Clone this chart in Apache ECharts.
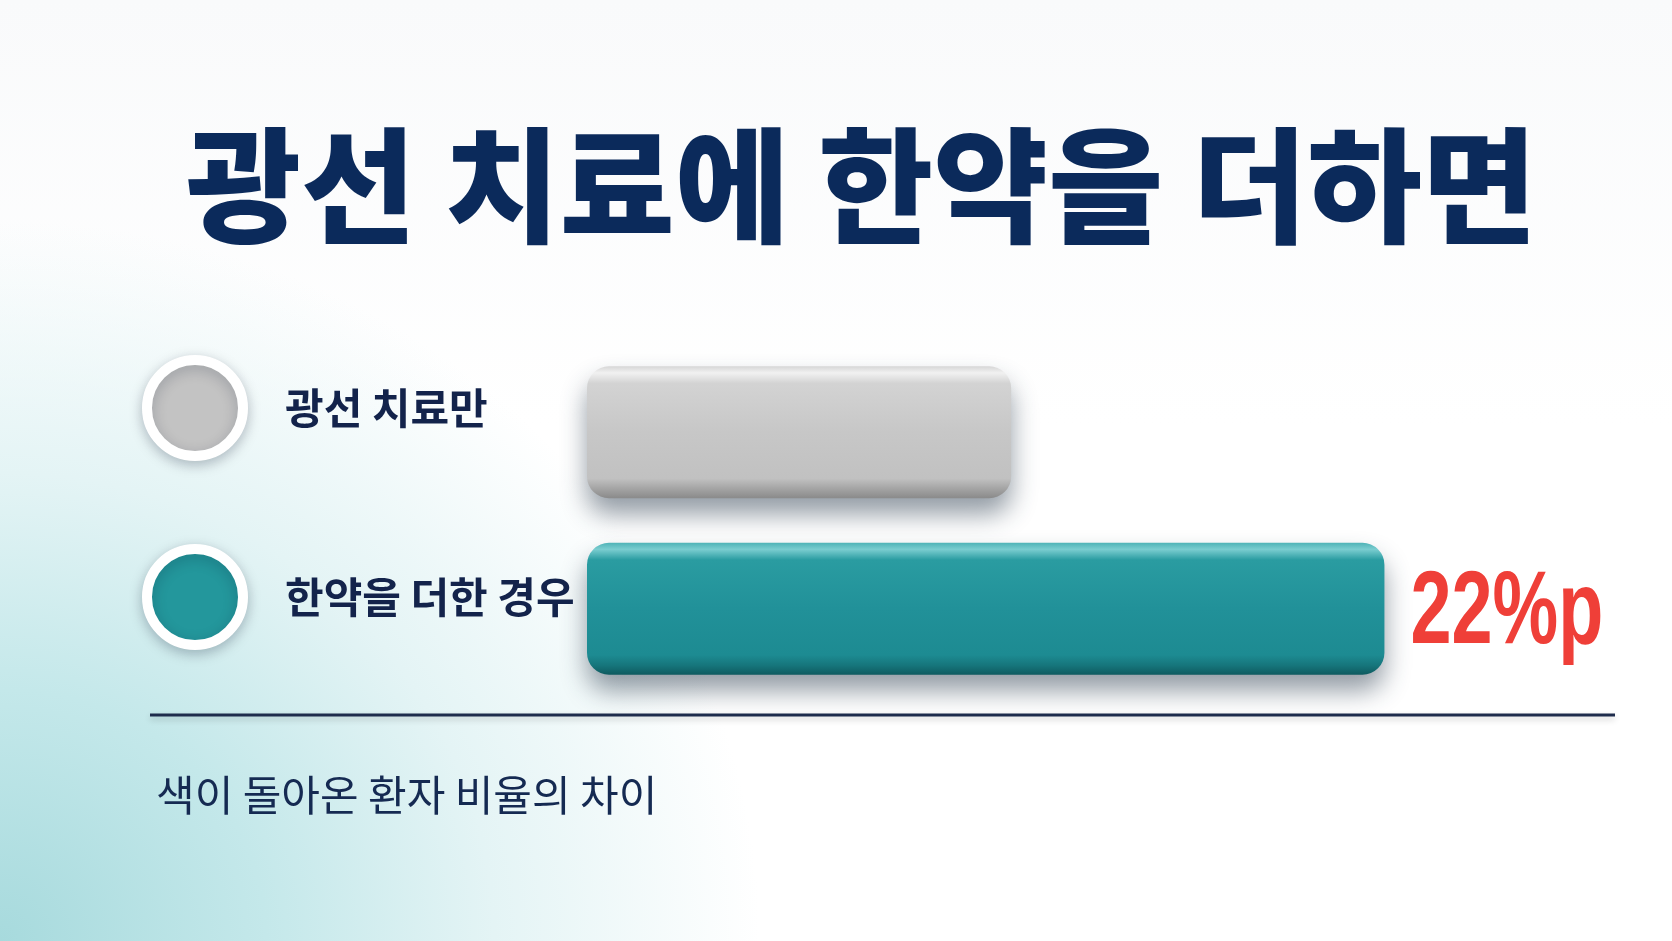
<!DOCTYPE html>
<html>
<head>
<meta charset="utf-8">
<script src="https://cdn.jsdelivr.net/npm/echarts@6/dist/echarts.min.js"></script>
<style>
  html, body { margin: 0; padding: 0; }
  body {
    width: 1672px; height: 941px; overflow: hidden;
    background:
      radial-gradient(ellipse 760px 720px at 0% 100%, #a7dadd 0%, #c4e8ea 35%, #e4f4f5 65%, rgba(255,255,255,0) 100%),
      linear-gradient(#f9fafb, #ffffff 45%);
  }
  #chart { width: 1672px; height: 941px; }
</style>
</head>
<body>
<div id="chart"></div>
<script>
// 데이터
const categories = ['광선 치료만', '한약을 더한 경우'];
const values = [25, 47];
const diffLabels = ['', '22%p'];
const legendColors = ['#c3c3c3', '#23979c'];

const titleText = '광선 치료에 한약을 더하면';
const footText = '색이 돌아온 환자 비율의 차이';

const chart = echarts.init(document.getElementById('chart'));

// 막대 입체감 그라데이션
const grayFill = new echarts.graphic.LinearGradient(0, 0, 0, 1, [
  { offset: 0, color: '#d6d6d6' },
  { offset: 0.05, color: '#f1f1f1' },
  { offset: 0.13, color: '#d3d3d3' },
  { offset: 0.5, color: '#c7c7c7' },
  { offset: 0.85, color: '#c1c1c1' },
  { offset: 0.93, color: '#a3a3a3' },
  { offset: 1, color: '#8a8a8a' }
]);
const tealFill = new echarts.graphic.LinearGradient(0, 0, 0, 1, [
  { offset: 0, color: '#4fb3b7' },
  { offset: 0.05, color: '#7acdd0' },
  { offset: 0.13, color: '#2a9ca1' },
  { offset: 0.5, color: '#219199' },
  { offset: 0.85, color: '#1d8b92' },
  { offset: 0.93, color: '#16757b' },
  { offset: 1, color: '#0e5a5f' }
]);
const fills = [grayFill, tealFill];

const series = categories.map((name, i) => ({
  name: name,
  type: 'bar',
  barWidth: 132,
  barGap: '-100%',
  data: values.map((v, j) => (j === i ? v : '-')),
  itemStyle: {
    color: fills[i],
    borderRadius: 22,
    shadowColor: 'rgba(15,35,55,0.45)',
    shadowBlur: 26,
    shadowOffsetY: 16
  }
}));

const option = {
  backgroundColor: 'transparent',
  animation: false,
  title: [
    {
      text: titleText,
      left: 186,
      top: 120,
      padding: 0,
      textStyle: {
        color: '#0b2a5b',
        fontSize: 125,
        lineHeight: 130,
        fontWeight: 900,
        fontFamily: '"Noto Sans CJK KR", sans-serif'
      }
    },
    {
      text: footText,
      left: 156,
      top: 772,
      padding: 0,
      textStyle: {
        color: '#152a52',
        fontSize: 42,
        lineHeight: 46,
        fontWeight: 'normal',
        fontFamily: '"Noto Sans CJK KR", sans-serif'
      }
    }
  ],
  legend: {
    orient: 'vertical',
    left: 137,
    top: 350,
    itemWidth: 96,
    itemHeight: 96,
    itemGap: 83,
    icon: 'circle',
    selectedMode: false,
    data: categories.map((name, i) => ({
      name: name,
      itemStyle: {
        color: legendColors[i],
        borderColor: '#ffffff',
        borderWidth: 10,
        shadowColor: 'rgba(0,20,40,0.22)',
        shadowBlur: 14,
        shadowOffsetY: 4
      }
    })),
    textStyle: {
      color: '#13234b',
      fontSize: 42,
      fontWeight: 'bold',
      fontFamily: '"Noto Sans CJK KR", sans-serif',
      padding: [0, 0, 0, 37]
    }
  },
  grid: {
    left: 587,
    right: 67,
    top: 344,
    height: 353
  },
  xAxis: {
    type: 'value',
    min: 0,
    max: 60,
    show: false
  },
  yAxis: {
    type: 'category',
    inverse: true,
    data: categories,
    show: false
  },
  series: series
};

chart.setOption(option);

// 끝 라벨(좁은 글꼴 느낌을 위해 가로 축소) + 기준선
const graphics = [
  {
    type: 'line',
    shape: { x1: 150, y1: 715, x2: 1615, y2: 715 },
    style: {
      stroke: '#1e2c4c',
      lineWidth: 3,
      shadowColor: 'rgba(0,0,0,0.2)',
      shadowBlur: 6,
      shadowOffsetY: 3
    },
    z: 10
  }
];
values.forEach((v, i) => {
  if (!diffLabels[i]) return;
  const p = chart.convertToPixel({ gridIndex: 0 }, [v, categories[i]]);
  graphics.push({
    type: 'text',
    x: p[0] + 26,
    y: p[1] + 6,
    scaleX: 0.71,
    originX: 0,
    originY: 0,
    style: {
      text: diffLabels[i],
      fill: '#ef3f38',
      fontSize: 104,
      fontWeight: 'bold',
      fontFamily: '"Liberation Sans", Roboto, sans-serif',
      verticalAlign: 'middle'
    },
    z: 20
  });
});
chart.setOption({ graphic: graphics });
</script>
</body>
</html>
